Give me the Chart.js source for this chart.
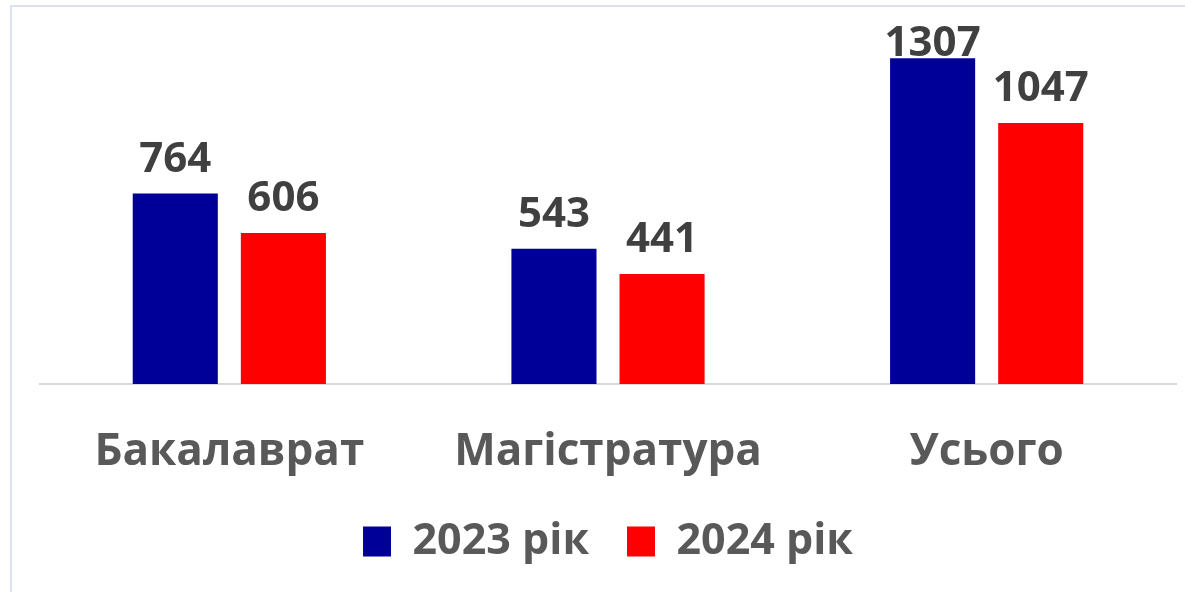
<!DOCTYPE html>
<html>
<head>
<meta charset="utf-8">
<script src="https://cdn.jsdelivr.net/npm/chart.js@4.4.1/dist/chart.umd.min.js"></script>
<style>
    html, body { margin: 0; padding: 0; background: #fff; overflow: hidden; }
    #wrap { position: relative; width: 1185px; height: 592px; }
    #frame { position: absolute; left: 10px; top: 5px; width: 1200px; height: 620px; border: 2px solid #d9e1f2; box-sizing: border-box; }
    #myChart { position: absolute; left: 0; top: 0; }
</style>
</head>
<body>
<div id="wrap">
    <div id="frame"></div>
    <canvas id="myChart" width="1185" height="592"></canvas>
</div>
<script>
const categories = ['Бакалаврат', 'Магістратура', 'Усього'];
const seriesNames = ['2023 рік', '2024 рік'];
const values2023 = [764, 543, 1307];
const values2024 = [606, 441, 1047];

document.addEventListener("DOMContentLoaded", () => {
    const ctx = document.getElementById('myChart').getContext('2d');
    const fontFamily = '"Open Sans", "Noto Sans", sans-serif';
    const legendGap = 38;

    // value labels above each bar
    const barLabels = {
        id: 'barLabels',
        afterDatasetsDraw(chart) {
            const c = chart.ctx;
            c.save();
            c.font = 'bold 42px ' + fontFamily;
            c.fillStyle = '#404040';
            c.textAlign = 'center';
            c.textBaseline = 'alphabetic';
            chart.data.datasets.forEach((ds, i) => {
                chart.getDatasetMeta(i).data.forEach((bar, j) => {
                    const y = Math.max(bar.y - 22, chart.chartArea.top + 21);
                    c.fillText(String(ds.data[j]), bar.x, y);
                });
            });
            c.restore();
        }
    };

    new Chart(ctx, {
        type: 'bar',
        data: {
            labels: categories,
            datasets: [{
                label: seriesNames[0],
                data: values2023,
                backgroundColor: '#000099',
                categoryPercentage: 0.571,
                barPercentage: 0.787
            }, {
                label: seriesNames[1],
                data: values2024,
                backgroundColor: '#ff0000',
                categoryPercentage: 0.571,
                barPercentage: 0.787
            }]
        },
        options: {
            responsive: false,
            animation: false,
            layout: {
                padding: { top: 35, left: 40, right: 9, bottom: 19 }
            },
            scales: {
                x: {
                    grid: { display: false, drawTicks: false },
                    border: { display: true, color: '#d9d9d9', width: 2 },
                    ticks: {
                        color: '#595959',
                        padding: 46,
                        font: { family: fontFamily, size: 44, weight: 'bold', lineHeight: 1 }
                    },
                    // the legend padding also spaces items sideways; take that height back here
                    afterFit: (scale) => { scale.height -= legendGap; }
                },
                y: {
                    display: false,
                    min: 0,
                    max: 1400
                }
            },
            plugins: {
                legend: {
                    position: 'bottom',
                    labels: {
                        boxWidth: 28,
                        boxHeight: 30,
                        padding: legendGap,
                        color: '#595959',
                        font: { family: fontFamily, size: 43, weight: 'bold' }
                    }
                },
                tooltip: { enabled: false }
            }
        },
        plugins: [barLabels]
    });
});
</script>
</body>
</html>
